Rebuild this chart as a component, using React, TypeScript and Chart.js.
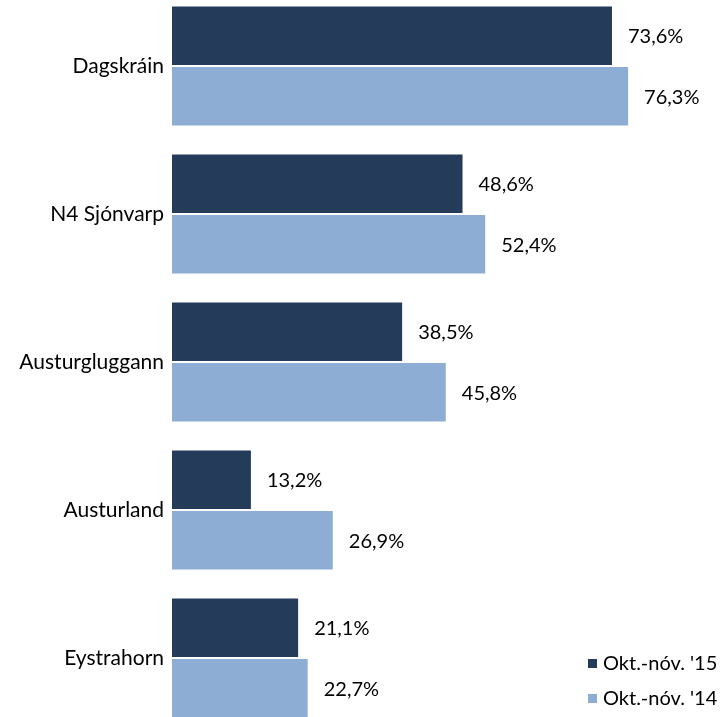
import React, { useEffect, useRef } from "react";
import { Chart, registerables } from "chart.js";

Chart.register(...registerables);

const categories = ["Dagskráin", "N4 Sjónvarp", "Austurgluggann", "Austurland", "Eystrahorn"];
const series15 = [73.6, 48.6, 38.5, 13.2, 21.1];
const series14 = [76.3, 52.4, 45.8, 26.9, 22.7];
const seriesLabels = ["Okt.-nóv. '15", "Okt.-nóv. '14"];
const seriesColors = ["#243B5A", "#8DADD4"];

const FONT = "Lato, 'Open Sans', sans-serif";

const fmt = (v: number) => v.toFixed(1).replace(".", ",") + "%";

const labelPlugin = {
  id: "valueLabels",
  afterDatasetsDraw(chart: any) {
    const ctx = chart.ctx;
    ctx.save();
    ctx.font = `20px ${FONT}`;
    ctx.fillStyle = "#000";
    ctx.textAlign = "left";
    ctx.textBaseline = "middle";
    chart.data.datasets.forEach((ds: any, di: number) => {
      const meta = chart.getDatasetMeta(di);
      meta.data.forEach((bar: any, i: number) => {
        ctx.fillText(fmt(ds.data[i]), bar.x + 16, bar.y + 1);
      });
    });
    ctx.restore();
  },
};

const legendPlugin = {
  id: "customLegend",
  afterDraw(chart: any) {
    const ctx = chart.ctx;
    ctx.save();
    ctx.font = `20px ${FONT}`;
    ctx.textAlign = "left";
    ctx.textBaseline = "middle";
    const rows = [672, 707];
    chart.data.datasets.forEach((ds: any, di: number) => {
      const y = rows[di];
      ctx.fillStyle = ds.backgroundColor;
      ctx.fillRect(588, y - 5, 9, 9);
      ctx.fillStyle = "#000";
      ctx.fillText(ds.label, 603, y);
    });
    ctx.restore();
  },
};

export default function App() {
  const ref = useRef<HTMLCanvasElement>(null);
  useEffect(() => {
    if (!ref.current) return;
    const chart = new Chart(ref.current, {
      type: "bar",
      data: {
        labels: categories,
        datasets: [
          { label: seriesLabels[0], data: series15, backgroundColor: seriesColors[0], categoryPercentage: 0.815, barPercentage: 0.97 },
          { label: seriesLabels[1], data: series14, backgroundColor: seriesColors[1], categoryPercentage: 0.815, barPercentage: 0.97 },
        ],
      },
      options: {
        indexAxis: "y",
        animation: false,
        responsive: false,
        maintainAspectRatio: false,
        layout: { padding: { left: 0, right: 15, top: 0, bottom: 0 } },
        plugins: { legend: { display: false }, tooltip: { enabled: false } },
        scales: {
          x: { display: false, min: 0, max: 90 },
          y: {
            grid: { display: false, drawTicks: false },
            border: { display: false },
            ticks: { padding: 8, color: "#000", font: { family: FONT, size: 21 } },
            afterFit: (scale: any) => {
              scale.width = 172;
              scale.paddingTop = 0;
              scale.paddingBottom = 0;
            },
          },
        },
      },
      plugins: [labelPlugin, legendPlugin],
    });
    return () => chart.destroy();
  }, []);
  return (
    <div style={{ position: "absolute", left: 0, top: -8, width: 725, height: 740, background: "#fff" }}>
      <canvas ref={ref} width={725} height={740} style={{ display: "block" }} />
    </div>
  );
}
